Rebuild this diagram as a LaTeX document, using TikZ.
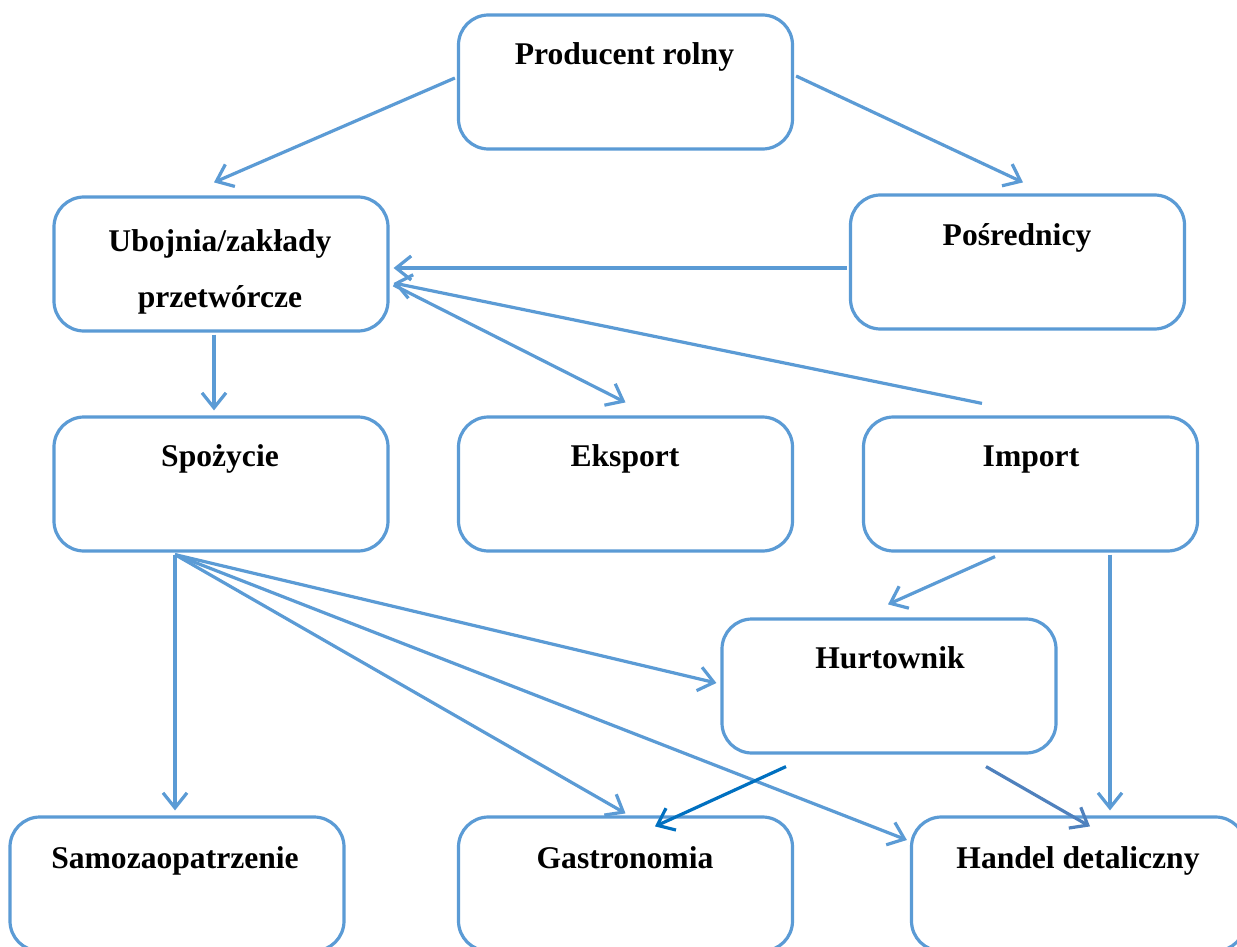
\documentclass[tikz,border=0pt]{standalone}
\usepackage{fontspec}
\setmainfont{Liberation Serif}
\usetikzlibrary{arrows.meta,calc}
\definecolor{mainblue}{HTML}{5B9BD5}
\definecolor{darkblue}{HTML}{0070C0}
\definecolor{steelblue}{HTML}{4F81BD}
\begin{document}
\begin{tikzpicture}[x=0.5pt,y=-0.5pt,
  box/.style={draw=mainblue,line width=1.6pt,rounded corners=15pt,fill=white,
    minimum width=167pt,minimum height=67pt,inner sep=0pt},
  lbl/.style={anchor=base,font=\fontsize{15.8}{19}\selectfont\bfseries,inner sep=0pt},
  conn/.style={draw=mainblue,line width=1.6pt,-{Straight Barb[length=7.5pt,width=12pt]}}
]
\clip (0,0) rectangle (1237,947);
\fill[white] (0,0) rectangle (1237,947);
% boxes
\node[box] (prod) at (625.5,82) {};
\node[box] (ubo)  at (221,264) {};
\node[box] (pos)  at (1017.5,262) {};
\node[box] (spo)  at (221,484) {};
\node[box] (eks)  at (625.5,484) {};
\node[box] (imp)  at (1030.5,484) {};
\node[box] (hurt) at (889,686) {};
\node[box] (samo) at (177,884) {};
\node[box] (gast) at (625.5,884) {};
\node[box] (hand) at (1078.5,884) {};
% labels
\node[lbl] (tprod) at (624.5,65) {Producent rolny};
\node[lbl] (tubo1) at (220,251) {Ubojnia/zakłady};
\node[lbl] (tubo2) at (220,307) {przetwórcze};
\node[lbl] (tpos)  at (1017,245) {Pośrednicy};
\node[lbl] (tspo)  at (220,466) {Spożycie};
\node[lbl] (teks)  at (625,466) {Eksport};
\node[lbl] (timp)  at (1031,466) {Import};
\node[lbl] (thurt) at (890,668) {Hurtownik};
\node[lbl] (tsamo) at (175,868) {Samozaopatrzenie};
\node[lbl] (tgast) at (625,868) {Gastronomia};
\node[lbl] (thand) at (1078,868) {Handel detaliczny};
% connectors
\coordinate (s0) at ($(spo.south)+(-46,2)$);
\draw[conn] ($(prod.west)+(-2,-4)$) -- ($(ubo.north)+(-7,-13)$);
\draw[conn] ($(prod.east)+(2,-6)$) -- ($(pos.north)+(5.5,-11)$);
\draw[conn] ($(pos.west)+(-2,6)$) -- ($(ubo.east)+(4,4)$);
\draw[conn] ($(imp.north)+(-48.5,-12)$) -- ($(ubo.east)+(4,19)$);
\draw[conn] ($(ubo.east)+(4,21)$) -- ($(eks.north)+(0,-13)$);
\draw[conn] ($(ubo.south)+(-7,2)$) -- ($(spo.north)+(-7,-5)$);
\draw[conn] (s0) -- ($(samo.north)+(-2,-5)$);
\draw[conn] (s0) -- ($(gast.north)+(0,-2)$);
\draw[conn] (s0) -- ($(hand.west)+(-3,-44)$);
\draw[conn] (s0) -- ($(hurt.west)+(-4,-3)$);
\draw[conn] ($(imp.south)+(-35.5,4)$) -- ($(hurt.north)+(-1,-13)$);
\draw[conn] ($(imp.south)+(79.5,2)$) -- ($(hand.north)+(31.5,-5)$);
\draw[conn,draw=darkblue] ($(hurt.south)+(-103,12)$) -- ($(gast.north)+(29.5,11)$);
\draw[conn,draw=steelblue] ($(hurt.south)+(97,12)$) -- ($(hand.north)+(11.5,11)$);
\end{tikzpicture}
\end{document}
